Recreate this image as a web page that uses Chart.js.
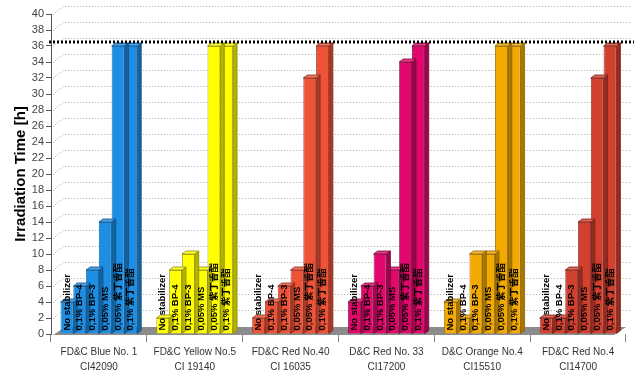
<!DOCTYPE html>
<html>
<head>
<meta charset="utf-8">
<script src="https://cdn.jsdelivr.net/npm/chart.js@4/dist/chart.umd.min.js"></script>
<style>
  html, body { margin: 0; padding: 0; background: #ffffff; }
  #wrap { width: 637px; height: 381px; }
</style>
</head>
<body>
<div id="wrap"><canvas id="c" width="637" height="381"></canvas></div>
<script>
// ---------- DATA ----------
const categories = [
  ["FD&C Blue No. 1", "CI42090"],
  ["FD&C Yellow No.5", "CI 19140"],
  ["FD&C Red No.40", "CI 16035"],
  ["D&C Red No. 33", "CI17200"],
  ["D&C Orange No.4", "CI15510"],
  ["FD&C Red No.4", "CI14700"]
];
const seriesNames = ["No stabilizer", "0,1% BP-4", "0,1% BP-3", "0,05% MS", "0,05% 紫丁香酯", "0,1% 紫丁香酯"];
const noStabilizer   = [4, 2, 2, 4, 4, 2];
const bp4            = [6, 8, 4, 6, 2, 2];
const bp3            = [8, 10, 6, 10, 10, 8];
const ms005          = [14, 8, 8, 8, 10, 14];
const syringate005   = [36, 36, 32, 34, 36, 32];
const syringate01    = [36, 36, 36, 36, 36, 36];
const seriesValues = [noStabilizer, bp4, bp3, ms005, syringate005, syringate01];
const thresholdValue = 36.5;
const yMin = 0, yMax = 40, yStep = 2;
const yTitle = "Irradiation Time [h]";

// ---------- STYLE ----------
const faceColors = ["#1C8EE3", "#FFFF00", "#EE5338", "#E0086C", "#F2A900", "#D2402F"];
const edgeColors = ["#0B4F8A", "#8C8C00", "#8A2A1A", "#7A0038", "#8A6000", "#7A1F16"];
const DX = 4, DY = 3;

function shade(hex, f) {
  const n = parseInt(hex.slice(1), 16);
  let r = (n >> 16) & 255, g = (n >> 8) & 255, b = n & 255;
  if (f < 0) { r = r * (1 + f); g = g * (1 + f); b = b * (1 + f); }
  else { r = r + (255 - r) * f; g = g + (255 - g) * f; b = b + (255 - b) * f; }
  return "rgb(" + Math.round(r) + "," + Math.round(g) + "," + Math.round(b) + ")";
}

const bar3d = {
  id: "bar3d",
  beforeDatasetsDraw(chart) {
    const ctx = chart.ctx, a = chart.chartArea, ys = chart.scales.y;
    ctx.save();
    ctx.strokeStyle = "#a8a8a8";
    ctx.lineWidth = 1;
    ctx.setLineDash([1, 2]);
    for (let v = yMin + yStep; v <= yMax; v += yStep) {
      const y = Math.round(ys.getPixelForValue(v)) + 0.5;
      ctx.beginPath();
      ctx.moveTo(a.left + 2, y);
      ctx.lineTo(a.left + 12, y - 8);
      ctx.lineTo(a.right + 6, y - 8);
      ctx.stroke();
    }
    ctx.setLineDash([]);
    const b = a.bottom;
    ctx.fillStyle = "#8c8c8c";
    ctx.beginPath();
    ctx.moveTo(a.left + 2, b + 1);
    ctx.lineTo(a.right - 12, b + 1);
    ctx.lineTo(a.right, b - 7);
    ctx.lineTo(a.left + 14, b - 7);
    ctx.closePath();
    ctx.fill();
    ctx.restore();
  },
  afterDatasetDraw(chart, args) {
    const ctx = chart.ctx;
    ctx.save();
    args.meta.data.forEach((bar, i) => {
      const p = bar.getProps(["x", "y", "base", "width"], true);
      const l = p.x - p.width / 2, r = p.x + p.width / 2, t = p.y, bs = p.base;
      ctx.lineWidth = 0.8;
      ctx.strokeStyle = edgeColors[i];
      ctx.fillStyle = shade(faceColors[i], -0.3);
      ctx.beginPath();
      ctx.moveTo(r, t); ctx.lineTo(r + DX, t - DY); ctx.lineTo(r + DX, bs - DY); ctx.lineTo(r, bs);
      ctx.closePath(); ctx.fill(); ctx.stroke();
      ctx.fillStyle = shade(faceColors[i], 0.2);
      ctx.beginPath();
      ctx.moveTo(l, t); ctx.lineTo(l + DX, t - DY); ctx.lineTo(r + DX, t - DY); ctx.lineTo(r, t);
      ctx.closePath(); ctx.fill(); ctx.stroke();
    });
    ctx.restore();
  },
  afterDatasetsDraw(chart) {
    const ctx = chart.ctx, a = chart.chartArea, ys = chart.scales.y;
    ctx.save();
    ctx.fillStyle = "#000";
    ctx.font = "bold 9.5px Arial, 'Liberation Sans', 'Noto Sans CJK SC', sans-serif";
    ctx.textAlign = "left";
    ctx.textBaseline = "middle";
    chart.data.datasets.forEach((ds, di) => {
      const meta = chart.getDatasetMeta(di);
      meta.data.forEach((bar) => {
        const p = bar.getProps(["x", "base"], true);
        ctx.save();
        ctx.translate(p.x, p.base - 3);
        ctx.rotate(-Math.PI / 2);
        ctx.fillText(ds.label, 0, 0);
        ctx.restore();
      });
    });
    const ty = Math.round(ys.getPixelForValue(thresholdValue));
    ctx.strokeStyle = "#000";
    ctx.lineWidth = 3;
    ctx.setLineDash([2, 2]);
    ctx.beginPath();
    ctx.moveTo(a.left - 2, ty);
    ctx.lineTo(a.right + 8, ty);
    ctx.stroke();
    ctx.restore();
  }
};

const datasets = seriesNames.map((name, si) => ({
  label: name,
  data: seriesValues[si],
  backgroundColor: faceColors,
  borderColor: edgeColors,
  borderWidth: 0.8,
  categoryPercentage: 0.8,
  barPercentage: 1.0
}));

new Chart(document.getElementById("c"), {
  type: "bar",
  data: { labels: categories, datasets },
  plugins: [bar3d],
  options: {
    responsive: false,
    animation: false,
    devicePixelRatio: 1,
    layout: { padding: { top: 14, right: 11, left: 12, bottom: 0 } },
    plugins: { legend: { display: false }, tooltip: { enabled: false } },
    scales: {
      x: {
        offset: true,
        grid: { display: true, drawOnChartArea: false, offset: true, tickLength: 8, color: "#888" },
        border: { display: false },
        ticks: {
          font: { family: "Arial, 'Liberation Sans', sans-serif", size: 10, lineHeight: 1.5 },
          color: "#333",
          padding: 3,
          maxRotation: 0,
          autoSkip: false
        },
        afterFit(s) { s.height = 47; }
      },
      y: {
        min: yMin, max: yMax,
        ticks: {
          stepSize: yStep,
          autoSkip: false,
          font: { family: "Arial, 'Liberation Sans', sans-serif", size: 11 },
          color: "#444",
          padding: 2
        },
        grid: { display: true, drawOnChartArea: false, tickLength: 5, color: "#555" },
        border: { display: true, color: "#555" },
        title: {
          display: true,
          text: yTitle,
          color: "#000",
          font: { family: "Arial, 'Liberation Sans', sans-serif", size: 15, weight: "bold" },
          padding: 0
        },
        afterFit(s) { s.width = 39; }
      }
    }
  }
});
</script>
</body>
</html>
